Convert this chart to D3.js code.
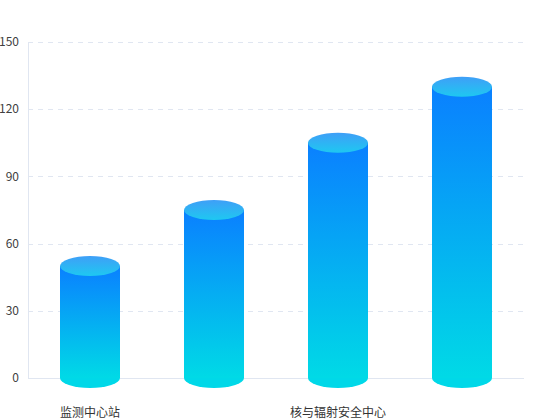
<!DOCTYPE html>
<html>
<head>
<meta charset="utf-8">
<script src="https://cdn.jsdelivr.net/npm/d3@7.9.0/dist/d3.min.js"></script>
<style>
  html, body { margin: 0; padding: 0; background: #fff; }
  svg { display: block; font-family: "Noto Sans CJK SC", "Noto Sans", sans-serif; }
</style>
</head>
<body>
<svg id="chart" width="550" height="420"></svg>
<script>
// Chart data
const categories = ['监测中心站', '监测站B', '核与辐射安全中心', '监测站D'];
const values = [50, 75, 105, 130];
// Only every other category label is shown
const shownLabels = [true, false, true, false];
const yTicks = [0, 30, 60, 90, 120, 150];

const width = 550, height = 420;
const margin = { top: 42, right: 26, bottom: 42, left: 28 };

const svg = d3.select('#chart');

const x = d3.scaleBand()
  .domain(categories)
  .range([margin.left, width - margin.right])
  .paddingInner(0)
  .paddingOuter(0);

const y = d3.scaleLinear()
  .domain([0, 150])
  .range([height - margin.bottom, margin.top]);

// Gradients
const defs = svg.append('defs');
const bodyGrad = defs.append('linearGradient')
  .attr('id', 'bodyGrad')
  .attr('x1', 0).attr('y1', 0).attr('x2', 0).attr('y2', 1);
bodyGrad.append('stop').attr('offset', '0%').attr('stop-color', '#0a80ff');
bodyGrad.append('stop').attr('offset', '100%').attr('stop-color', '#00dae6');

const topGrad = defs.append('linearGradient')
  .attr('id', 'topGrad')
  .attr('x1', 0).attr('y1', 0).attr('x2', 0).attr('y2', 1);
topGrad.append('stop').attr('offset', '0%').attr('stop-color', '#3f9ff7');
topGrad.append('stop').attr('offset', '100%').attr('stop-color', '#1ec8f1');

// Grid lines (dashed)
svg.append('g')
  .selectAll('line')
  .data(yTicks.filter(d => d > 0))
  .join('line')
  .attr('x1', margin.left)
  .attr('x2', width - margin.right)
  .attr('y1', d => Math.round(y(d)) + 0.5)
  .attr('y2', d => Math.round(y(d)) + 0.5)
  .attr('stroke', '#e0e6f1')
  .attr('stroke-dasharray', '5,5');

// Left axis line
svg.append('line')
  .attr('x1', margin.left + 0.5).attr('x2', margin.left + 0.5)
  .attr('y1', y(150)).attr('y2', y(0))
  .attr('stroke', '#e0e6f1');

// Bottom axis line
svg.append('line')
  .attr('x1', margin.left).attr('x2', width - margin.right)
  .attr('y1', Math.round(y(0)) + 0.5).attr('y2', Math.round(y(0)) + 0.5)
  .attr('stroke', '#e0e6f1');

// Y axis labels
svg.append('g')
  .selectAll('text')
  .data(yTicks)
  .join('text')
  .attr('x', 19)
  .attr('y', d => y(d))
  .attr('dy', '0.35em')
  .attr('text-anchor', 'end')
  .attr('font-size', 12)
  .attr('fill', '#404040')
  .text(d => d);

// Cylinders
const barW = 60;
const ry = 10;
const bars = svg.append('g')
  .selectAll('g')
  .data(categories.map((c, i) => ({ c, v: values[i] })))
  .join('g');

// bottom ellipse
bars.append('ellipse')
  .attr('cx', d => x(d.c) + x.bandwidth() / 2)
  .attr('cy', y(0))
  .attr('rx', barW / 2)
  .attr('ry', ry)
  .attr('fill', '#00d8e8');

// body
bars.append('rect')
  .attr('x', d => x(d.c) + x.bandwidth() / 2 - barW / 2)
  .attr('y', d => y(d.v))
  .attr('width', barW)
  .attr('height', d => y(0) - y(d.v))
  .attr('fill', 'url(#bodyGrad)');

// top ellipse
bars.append('ellipse')
  .attr('cx', d => x(d.c) + x.bandwidth() / 2)
  .attr('cy', d => y(d.v))
  .attr('rx', barW / 2)
  .attr('ry', ry)
  .attr('fill', 'url(#topGrad)');

// X axis labels
svg.append('g')
  .selectAll('text')
  .data(categories.filter((c, i) => shownLabels[i]))
  .join('text')
  .attr('x', d => x(d) + x.bandwidth() / 2)
  .attr('y', 413)
  .attr('dy', '0.35em')
  .attr('text-anchor', 'middle')
  .attr('font-size', 12)
  .attr('fill', '#333')
  .text(d => d);
</script>
</body>
</html>
